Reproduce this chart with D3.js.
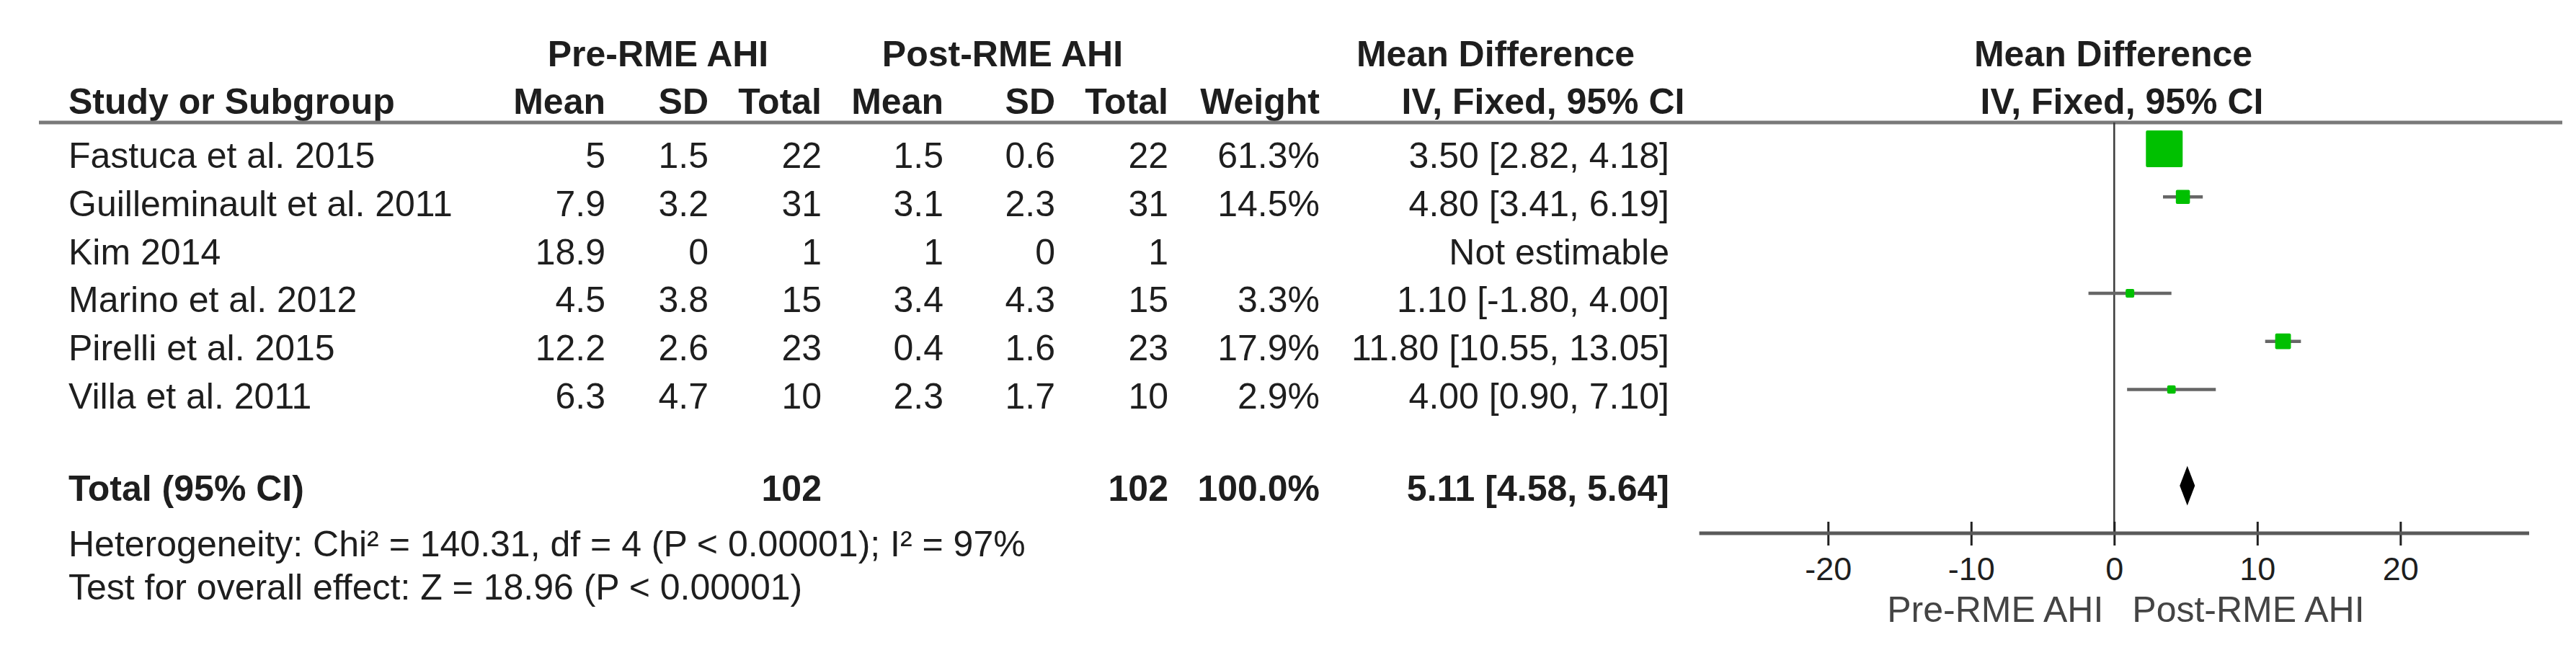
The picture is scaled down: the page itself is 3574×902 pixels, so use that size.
<!DOCTYPE html>
<html>
<head>
<meta charset="utf-8">
<script src="https://cdn.jsdelivr.net/npm/d3@7"></script>
<style>
  html, body { margin: 0; padding: 0; background: #ffffff; }
  svg { display: block; }
  text { font-family: "Liberation Sans", Arial, sans-serif; fill: #1e1e1e; }
</style>
</head>
<body>
<script>
// ---------- data ----------
const studies   = ["Fastuca et al. 2015", "Guilleminault et al. 2011", "Kim 2014", "Marino et al. 2012", "Pirelli et al. 2015", "Villa et al. 2011"];
const preMean   = [5, 7.9, 18.9, 4.5, 12.2, 6.3];
const preSD     = [1.5, 3.2, 0, 3.8, 2.6, 4.7];
const preTotal  = [22, 31, 1, 15, 23, 10];
const postMean  = [1.5, 3.1, 1, 3.4, 0.4, 2.3];
const postSD    = [0.6, 2.3, 0, 4.3, 1.6, 1.7];
const postTotal = [22, 31, 1, 15, 23, 10];
const weights   = [61.3, 14.5, null, 3.3, 17.9, 2.9];
const meanDiff  = [3.50, 4.80, null, 1.10, 11.80, 4.00];
const ciLow     = [2.82, 3.41, null, -1.80, 10.55, 0.90];
const ciHigh    = [4.18, 6.19, null, 4.00, 13.05, 7.10];

const totalLabel  = "Total (95% CI)";
const totalPre    = 102;
const totalPost   = 102;
const totalWeight = 100.0;
const totalMD     = 5.11;
const totalLow    = 4.58;
const totalHigh   = 5.64;

const heterogeneityText = "Heterogeneity: Chi\u00B2 = 140.31, df = 4 (P < 0.00001); I\u00B2 = 97%";
const overallText       = "Test for overall effect: Z = 18.96 (P < 0.00001)";

const axisTicks   = [-20, -10, 0, 10, 20];
const axisDomain  = [-29, 29];
const favoursLeft  = "Pre-RME AHI";
const favoursRight = "Post-RME AHI";

// ---------- layout ----------
const W = 3574, H = 902;
const svg = d3.select("body").append("svg").attr("width", W).attr("height", H);

const FS = 50;
const nameX = 95;
const col = { preMean: 840, preSD: 983, preTotal: 1140, postMean: 1309, postSD: 1464, postTotal: 1621, weight: 1831, ci: 2316 };

const rowBase = d3.scaleLinear().domain([0, studies.length - 1]).range([233, 567]);
const markOffset = -26.5;

const x = d3.scaleLinear().domain(axisDomain).range([2357.6, 3509]);
const boxSize = d3.scaleLinear().domain([0, 61.3]).range([9.8, 51]);

function fmtCI(m, lo, hi) { return m.toFixed(2) + " [" + lo.toFixed(2) + ", " + hi.toFixed(2) + "]"; }

// ---------- header ----------
const hdr = svg.append("g").attr("font-weight", "bold").attr("font-size", FS);
hdr.append("text").attr("x", 913).attr("y", 92).attr("text-anchor", "middle").text("Pre-RME AHI");
hdr.append("text").attr("x", 1391).attr("y", 92).attr("text-anchor", "middle").text("Post-RME AHI");
hdr.append("text").attr("x", 2075).attr("y", 92).attr("text-anchor", "middle").text("Mean Difference");
hdr.append("text").attr("x", 2932).attr("y", 92).attr("text-anchor", "middle").text("Mean Difference");

hdr.append("text").attr("x", nameX).attr("y", 158).text("Study or Subgroup");
const h2 = [["Mean", col.preMean], ["SD", col.preSD], ["Total", col.preTotal], ["Mean", col.postMean], ["SD", col.postSD], ["Total", col.postTotal], ["Weight", col.weight]];
h2.forEach(([t, cx]) => hdr.append("text").attr("x", cx).attr("y", 158).attr("text-anchor", "end").text(t));
hdr.append("text").attr("x", 2141).attr("y", 158).attr("text-anchor", "middle").text("IV, Fixed, 95% CI");
hdr.append("text").attr("x", 2944).attr("y", 158).attr("text-anchor", "middle").text("IV, Fixed, 95% CI");

// top rule
svg.append("line").attr("x1", 54).attr("x2", 3555).attr("y1", 170).attr("y2", 170)
  .attr("stroke", "#7a7a7a").attr("stroke-width", 5);

// ---------- study rows ----------
const rows = svg.append("g").attr("font-size", FS);
studies.forEach((s, i) => {
  const y = rowBase(i);
  rows.append("text").attr("x", nameX).attr("y", y).text(s);
  const cells = [[preMean[i], col.preMean], [preSD[i], col.preSD], [preTotal[i], col.preTotal],
                 [postMean[i], col.postMean], [postSD[i], col.postSD], [postTotal[i], col.postTotal]];
  cells.forEach(([v, cx]) => rows.append("text").attr("x", cx).attr("y", y).attr("text-anchor", "end").text(String(v)));
  if (weights[i] !== null) {
    rows.append("text").attr("x", col.weight).attr("y", y).attr("text-anchor", "end").text(weights[i].toFixed(1) + "%");
    rows.append("text").attr("x", col.ci).attr("y", y).attr("text-anchor", "end").text(fmtCI(meanDiff[i], ciLow[i], ciHigh[i]));
  } else {
    rows.append("text").attr("x", col.ci).attr("y", y).attr("text-anchor", "end").text("Not estimable");
  }
});

// total row
const tot = svg.append("g").attr("font-size", FS).attr("font-weight", "bold");
const totY = 695;
tot.append("text").attr("x", nameX).attr("y", totY).text(totalLabel);
tot.append("text").attr("x", col.preTotal).attr("y", totY).attr("text-anchor", "end").text(totalPre);
tot.append("text").attr("x", col.postTotal).attr("y", totY).attr("text-anchor", "end").text(totalPost);
tot.append("text").attr("x", col.weight).attr("y", totY).attr("text-anchor", "end").text(totalWeight.toFixed(1) + "%");
tot.append("text").attr("x", col.ci).attr("y", totY).attr("text-anchor", "end").text(fmtCI(totalMD, totalLow, totalHigh));

// footnotes
const foot = svg.append("g").attr("font-size", FS);
foot.append("text").attr("x", nameX).attr("y", 772).text(heterogeneityText);
foot.append("text").attr("x", nameX).attr("y", 832).text(overallText);

// ---------- forest plot ----------
const plot = svg.append("g");
const axisY = 740;

// zero line
plot.append("line").attr("x1", x(0)).attr("x2", x(0)).attr("y1", 170).attr("y2", axisY)
  .attr("stroke", "#3a3a3a").attr("stroke-width", 2.5);

studies.forEach((s, i) => {
  if (meanDiff[i] === null) return;
  const cy = rowBase(i) + markOffset;
  plot.append("line").attr("x1", x(ciLow[i])).attr("x2", x(ciHigh[i])).attr("y1", cy).attr("y2", cy)
    .attr("stroke", "#666").attr("stroke-width", 4.5);
  const sz = boxSize(weights[i]);
  plot.append("rect").attr("x", x(meanDiff[i]) - sz / 2).attr("y", cy - sz / 2)
    .attr("width", sz).attr("height", sz).attr("rx", 2)
    .attr("fill", "#00c000");
});

// diamond
const dCy = 674, dH = 27.5;
plot.append("path")
  .attr("d", `M${x(totalLow)},${dCy} L${x(totalMD)},${dCy - dH} L${x(totalHigh)},${dCy} L${x(totalMD)},${dCy + dH} Z`)
  .attr("fill", "#000");

// axis
const axis = d3.axisBottom(x).tickValues(axisTicks).tickSize(0).tickPadding(0).tickFormat(d3.format("d"));
const ax = plot.append("g").attr("transform", `translate(0,${axisY})`).call(axis);
ax.select(".domain").remove();
ax.selectAll(".tick text").remove();
ax.append("line").attr("x1", x.range()[0]).attr("x2", x.range()[1]).attr("y1", 0).attr("y2", 0)
  .attr("stroke", "#5a5a5a").attr("stroke-width", 5);
ax.selectAll(".tick").append("line").attr("y1", -16).attr("y2", 17).attr("stroke", "#222").attr("stroke-width", 3);
ax.selectAll(".tick").append("text").attr("y", 65).attr("text-anchor", "middle")
  .attr("font-size", 45).attr("fill", "#222").text(d => d3.format("d")(d).replace("\u2212", "-"));

plot.append("text").attr("x", x(0) - 15).attr("y", 863).attr("text-anchor", "end")
  .attr("font-size", FS).style("fill", "#444").text(favoursLeft);
plot.append("text").attr("x", x(0) + 25).attr("y", 863).attr("text-anchor", "start")
  .attr("font-size", FS).style("fill", "#444").text(favoursRight);
</script>
</body>
</html>
